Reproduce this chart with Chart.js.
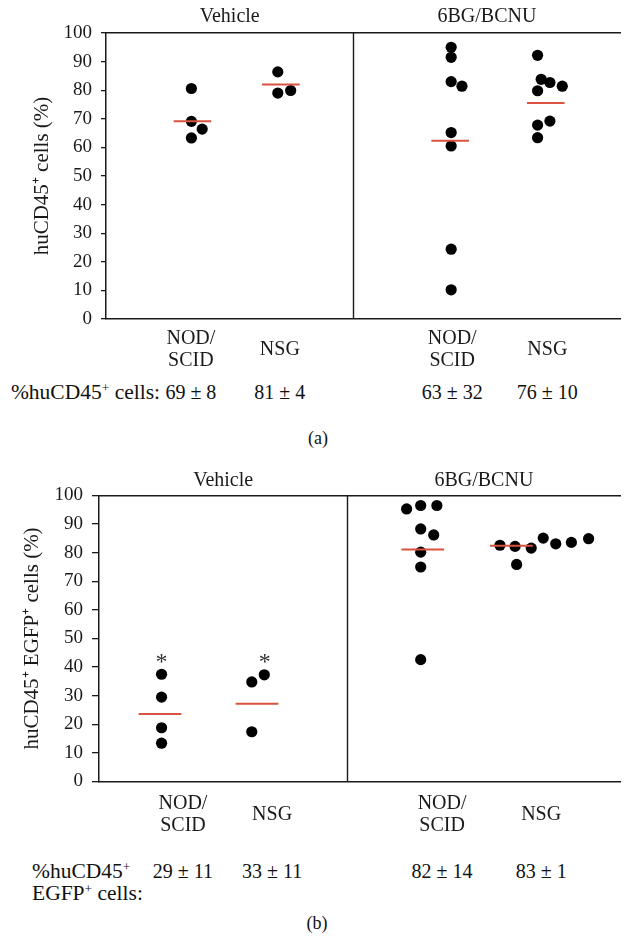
<!DOCTYPE html>
<html>
<head>
<meta charset="utf-8">
<script src="https://cdn.jsdelivr.net/npm/chart.js@4.4.1/dist/chart.umd.min.js"></script>
<style>
  html, body { margin: 0; padding: 0; background: #fff; }
  body { width: 626px; height: 942px; position: relative; overflow: hidden;
         font-family: "Liberation Serif", "DejaVu Serif", serif; color: #111; }
  canvas { position: absolute; left: 0; }
  .txt { position: absolute; font-size: 20px; line-height: 22px; white-space: nowrap; }
  .pre { font-size: 21.5px; }
  .cap { position: absolute; font-size: 18px; line-height: 22px; white-space: nowrap; transform: translateX(-50%); }
  sup { font-size: 0.62em; line-height: 0; vertical-align: 0.55em; }
</style>
</head>
<body>
<canvas id="chartA" width="626" height="375" style="top:0px"></canvas>
<canvas id="chartB" width="626" height="375" style="top:462px"></canvas>

<div class="txt pre" style="right:466px; top:381px; text-align:right">%huCD45<sup>+</sup> cells:</div>
<div class="txt pre" style="left:32px; top:860px">%huCD45<sup>+</sup><br>EGFP<sup>+</sup> cells:</div>
<div class="cap" style="left:318px; top:427px">(a)</div>
<div class="cap" style="left:317px; top:912px">(b)</div>

<script>
var treatments = ['Vehicle', '6BG/BCNU'];
var strains = [['NOD/', 'SCID'], 'NSG', ['NOD/', 'SCID'], 'NSG'];

// (a) huCD45+ cells (%)
var groupPosA = [1.68, 3.40, 6.69, 8.55];
var labelPosA = [1.65, 3.38, 6.73, 8.58];
var valuesA = [
  [80.6, 69.1, 66.4, 63.3],
  [86.4, 79.0, 79.9],
  [95.0, 91.5, 83.0, 81.4, 65.2, 60.5, 24.4, 10.2],
  [92.2, 83.8, 82.7, 79.8, 81.4, 67.8, 69.2, 63.4]
];
var jitterA = [
  [-0.02, -0.02, 0.19, -0.02],
  [-0.06, -0.06, 0.19],
  [0.02, 0.02, 0.02, 0.23, 0.02, 0.02, 0.02, 0.02],
  [-0.16, -0.09, 0.08, -0.16, 0.32, -0.16, 0.08, -0.16]
];
var meansA = [69.1, 82.0, 62.3, 75.5];
var statsA = ['69 ± 8', '81 ± 4', '63 ± 32', '76 ± 10'];

// (b) huCD45+ EGFP+ cells (%)
var groupPosB = [1.17, 3.03, 6.21, 7.91];
var labelPosB = [1.61, 3.32, 6.58, 8.48];
var valuesB = [
  [37.5, 29.5, 18.8, 13.4],
  [34.8, 37.3, 17.4],
  [95.3, 96.5, 96.5, 88.3, 86.2, 80.2, 75.0, 42.6],
  [82.6, 82.2, 81.6, 75.9, 85.1, 83.1, 83.6, 84.9]
];
var jitterB = [
  [0.03, 0.03, 0.03, 0.03],
  [-0.10, 0.14, -0.10],
  [-0.31, -0.04, 0.27, -0.04, 0.21, -0.04, -0.04, -0.04],
  [-0.22, 0.07, 0.38, 0.10, 0.61, 0.85, 1.15, 1.48]
];
var meansB = [23.6, 27.2, 81.1, 82.4];
var statsB = ['29 ± 11', '33 ± 11', '82 ± 14', '83 ± 1'];
var starGroupsB = [0, 1];
var starJitterB = [0.03, 0.15];
var starValueB = 43;

var yTicks = [0, 10, 20, 30, 40, 50, 60, 70, 80, 90, 100];

var FONT = 'Liberation Serif';
var INK = '#1a1a1a';

// divider line and asterisks
var panelDecor = {
  id: 'panelDecor',
  afterDatasetsDraw: function(chart, args, opts) {
    var ctx = chart.ctx, x = chart.scales.x, y = chart.scales.y, area = chart.chartArea;
    ctx.save();
    ctx.strokeStyle = INK;
    ctx.lineWidth = 1.4;
    var dx = Math.round(x.getPixelForValue(opts.divider)) + 0.5;
    ctx.beginPath();
    ctx.moveTo(dx, area.top);
    ctx.lineTo(dx, area.bottom);
    ctx.stroke();
    ctx.font = '24px "' + FONT + '"';
    ctx.fillStyle = '#333';
    ctx.textAlign = 'center';
    ctx.textBaseline = 'alphabetic';
    (opts.stars || []).forEach(function(s) {
      var m = ctx.measureText('*');
      var px = x.getPixelForValue(s.x), py = y.getPixelForValue(s.y);
      ctx.fillText('*', px, py + (m.actualBoundingBoxAscent - m.actualBoundingBoxDescent) / 2);
    });
    ctx.restore();
  }
};

function makePanel(id, p) {
  var dots = [];
  p.values.forEach(function(vals, g) {
    vals.forEach(function(v, i) {
      dots.push({ x: p.groupPos[g] + p.jitter[g][i], y: v });
    });
  });
  var datasets = [{
    label: 'cells', data: dots, order: 2,
    backgroundColor: '#000', borderWidth: 0,
    pointRadius: 5.6, pointHoverRadius: 5.6
  }];
  p.means.forEach(function(m, g) {
    datasets.push({
      label: 'mean', order: 1, showLine: true,
      data: [{ x: p.groupPos[g] - p.half, y: m }, { x: p.groupPos[g] + p.half, y: m }],
      borderColor: '#d9533f', borderWidth: 2, pointRadius: 0
    });
  });
  var sections = [p.divider / 2, (p.divider + 10) / 2];

  var chart = new Chart(document.getElementById(id), {
    type: 'scatter',
    data: { datasets: datasets },
    plugins: [panelDecor],
    options: {
      responsive: false,
      animation: false,
      events: [],
      devicePixelRatio: 1,
      clip: false,
      layout: { padding: { left: p.padLeft, right: 0, top: 0, bottom: 0 } },
      plugins: {
        legend: { display: false },
        tooltip: { enabled: false },
        panelDecor: { divider: p.divider, stars: p.stars }
      },
      scales: {
        x: {
          type: 'linear', position: 'bottom', min: 0, max: 10,
          grid: { display: false, drawTicks: false },
          border: { display: true, color: INK, width: 1.5 },
          afterBuildTicks: function(s) { s.ticks = p.labelPos.map(function(v) { return { value: v }; }); },
          afterFit: function(s) { s.height = p.bottomH; },
          ticks: {
            autoSkip: false, maxRotation: 0, padding: p.catPad, crossAlign: 'center',
            color: INK, font: { family: FONT, size: 20, lineHeight: '22px' },
            callback: function(v, i) { return strains[i]; }
          }
        },
        x2: {
          type: 'linear', position: 'top', min: 0, max: 10,
          grid: { display: false, drawTicks: false },
          border: { display: true, color: INK, width: 1.5 },
          afterBuildTicks: function(s) { s.ticks = sections.map(function(v) { return { value: v }; }); },
          afterFit: function(s) { s.height = p.topH; },
          ticks: {
            autoSkip: false, maxRotation: 0, padding: p.titlePad,
            color: INK, font: { family: FONT, size: 20, lineHeight: 1.2 },
            callback: function(v, i) { return treatments[i]; }
          }
        },
        y: {
          min: 0, max: 100,
          afterBuildTicks: function(s) { s.ticks = yTicks.map(function(v) { return { value: v }; }); },
          afterFit: function(s) { s.width = p.axisX - p.padLeft; },
          grid: { display: true, drawOnChartArea: false, drawTicks: true, tickLength: p.tickLen, color: INK, lineWidth: 1.3 },
          border: { display: true, color: INK, width: 1.5 },
          ticks: { padding: 9, color: INK, font: { family: FONT, size: 19 } },
          title: {
            display: true, text: p.yTitle, color: INK, padding: 0,
            font: { family: FONT, size: 21, lineHeight: 1.2 }
          }
        }
      }
    }
  });

  p.stats.forEach(function(s, i) {
    var d = document.createElement('div');
    d.className = 'txt';
    d.textContent = s;
    d.style.left = chart.scales.x.getPixelForValue(p.labelPos[i]) + 'px';
    d.style.top = (p.statsY - 11) + 'px';
    d.style.transform = 'translateX(-50%)';
    document.body.appendChild(d);
  });
  return chart;
}

makePanel('chartA', {
  groupPos: groupPosA, labelPos: labelPosA, values: valuesA, jitter: jitterA,
  means: meansA, stats: statsA, half: 0.365, divider: 4.81,
  yTitle: 'huCD45\u207A cells (%)',
  padLeft: 29.4, axisX: 106, tickLen: 5, topH: 33, bottomH: 56,
  titlePad: 4, catPad: 20, statsY: 392
});

makePanel('chartB', {
  groupPos: groupPosB, labelPos: labelPosB, values: valuesB, jitter: jitterB,
  means: meansB, stats: statsB, half: 0.41, divider: 4.763,
  stars: starGroupsB.map(function(g, i) { return { x: groupPosB[g] + starJitterB[i], y: starValueB }; }),
  yTitle: 'huCD45\u207A EGFP\u207A cells (%)',
  padLeft: 19.4, axisX: 99, tickLen: 7, topH: 33.5, bottomH: 55.5,
  titlePad: 3, catPad: 22.5, statsY: 871
});
</script>
</body>
</html>
